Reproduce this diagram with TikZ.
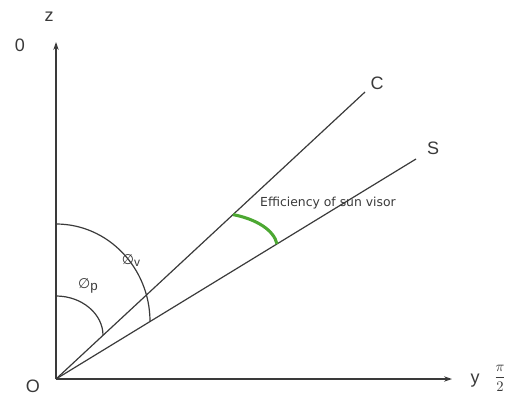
\documentclass[tikz,border=0pt]{standalone}
\usepackage{fontspec}
\setmainfont{Liberation Sans}
\newfontfamily\dejavu{DejaVu Sans}
\usetikzlibrary{arrows.meta}
\definecolor{ink}{HTML}{3A3A3A}
\definecolor{grn}{HTML}{4CA832}
\begin{document}
\begin{tikzpicture}[x=0.75pt,y=-0.75pt,
  ln/.style={draw=ink, line width=0.9pt},
  ax/.style={ln, -{Stealth[length=6pt,width=4pt]}},
  big/.style={text=ink, font=\fontsize{13.5}{15}\selectfont, inner sep=0pt},
  small/.style={text=ink, font=\dejavu\fontsize{9.3}{11}\selectfont, inner sep=0pt}]
\useasboundingbox (0,0) rectangle (510,403);
\coordinate (O) at (56,379);
\coordinate (ztip) at (56,42);
\coordinate (ytip) at (452,379);
\coordinate (Cend) at (365,92);
\coordinate (Send) at (416,159);
\draw[ax] (O) -- (ztip);
\draw[ax] (O) -- (ytip);
\draw[ln] (O) -- (Cend);
\draw[ln] (O) -- (Send);
% arcs
\coordinate (pa) at (56,296);
\coordinate (pb) at (103,335.3);
\coordinate (va) at (56,224);
\coordinate (vb) at (150,321.6);
\draw[ln] (pa) .. controls (82,296) and (103,314) .. (pb);
\draw[ln] (va) .. controls (108,224) and (150,268) .. (vb);
\coordinate (ga) at (233,214.6);
\coordinate (gb) at (277,244);
\draw[draw=grn, line width=2.3pt] (ga) .. controls (256,219) and (274,230) .. (gb);
% labels
\node[big] (lO) at (33,386) {O};
\node[big] (lz) at (49,17) {z};
\node[big] (l0) at (20,45) {0};
\node[big] (ly) at (475,381) {y};
\node[big] (lC) at (377,83) {C};
\node[big] (lS) at (433,148) {S};
\node[text=ink, inner sep=0pt, font=\fontsize{10.5}{12}\selectfont] (lpi) at (500,378) {$\displaystyle\frac{\pi}{2}$};
\node[small] (leff) at (328,203) {Efficiency of sun visor};
\node[text=ink, inner sep=0pt] (lv) at (131,261) {{\dejavu\fontsize{10.5}{12}\selectfont ∅}\raisebox{-1.5pt}{\fontsize{9}{10}\selectfont v}};
\node[text=ink, inner sep=0pt] (lp) at (88,286) {{\dejavu\fontsize{10.5}{12}\selectfont ∅}\raisebox{-1.5pt}{\fontsize{10}{10}\selectfont p}};
\end{tikzpicture}
\end{document}
